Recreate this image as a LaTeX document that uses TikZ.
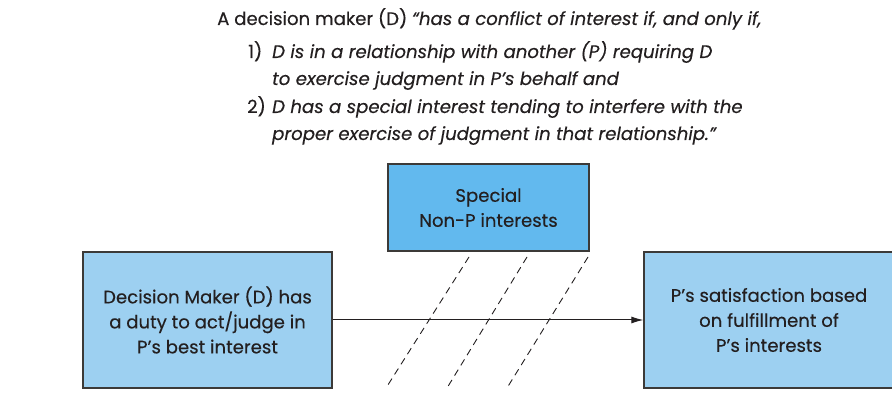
\documentclass[tikz,border=0pt]{standalone}
\usepackage{fontspec}
\setmainfont{Poppins}[FakeBold=0.3]
\usetikzlibrary{arrows.meta}
\definecolor{boxlight}{HTML}{9DD0F1}
\definecolor{boxdark}{HTML}{62B9EE}
\definecolor{edgec}{HTML}{3C3A38}
\definecolor{ink}{HTML}{231F20}
\begin{document}
\begin{tikzpicture}[x=1pt,y=-1pt,
  txt/.style={anchor=base west,inner sep=0pt,text=ink,font=\fontsize{18.1}{22}\selectfont},
  boxbase/.style={draw=edgec,line width=1.3pt,inner sep=0pt,align=center,text=ink,
    font=\fontsize{18.1}{25}\selectfont},
  lightbox/.style={boxbase,fill=boxlight,minimum width=249pt,minimum height=136pt},
  darkbox/.style={boxbase,fill=boxdark,minimum width=201pt,minimum height=87pt},
  flow/.style={draw=ink,line width=1pt,-{Latex[length=12pt,width=7pt]}},
  hatch/.style={draw=ink,line width=0.9pt,dash pattern=on 7pt off 5pt}]
\clip (0,0) rectangle (892,419);
\fill[white] (0,0) rectangle (892,419);
% header text
\node[txt] (h1) at (217,25) {A decision maker (D) \textit{“has a conflict of interest if, and only if,}};
\node[txt] (n1) at (248,58) {1)};
\node[txt] (h2) at (272,58) {\textit{D is in a relationship with another (P) requiring D}};
\node[txt] (h3) at (272,85) {\textit{to exercise judgment in P’s behalf and}};
\node[txt] (n2) at (247,113) {2)};
\node[txt] (h4) at (272,113) {\textit{D has a special interest tending to interfere with the}};
\node[txt] (h5) at (272,140) {\textit{proper exercise of judgment in that relationship.”}};
% boxes
\node[lightbox] (dm) at (207.5,320) {Decision Maker (D) has\\a duty to act/judge in\\P’s best interest};
\node[lightbox,minimum width=250pt] (ps) at (769,320) {P’s satisfaction based\\on fulfillment of\\P’s interests};
\node[darkbox] (sp) at (488.5,207.5) {Special\\Non-P interests};
% arrow
\draw[flow] (dm.east) -- (ps.west);
% dashed interference lines
\coordinate (a1) at (469,257); \coordinate (b1) at (386,388);
\coordinate (a2) at (527,257); \coordinate (b2) at (447,388);
\coordinate (a3) at (588,257); \coordinate (b3) at (507,388);
\draw[hatch] (a1) -- (b1);
\draw[hatch] (a2) -- (b2);
\draw[hatch] (a3) -- (b3);
\end{tikzpicture}
\end{document}
